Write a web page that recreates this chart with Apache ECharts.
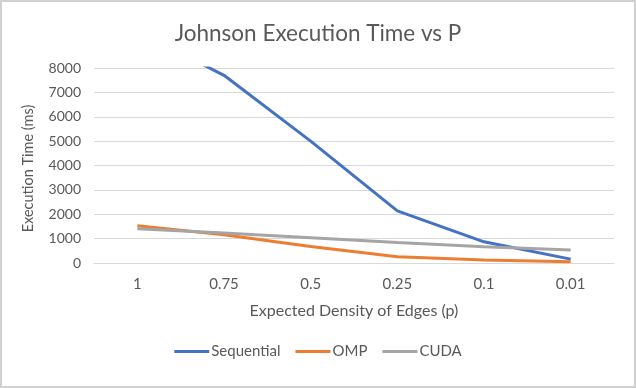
<!DOCTYPE html>
<html><head><meta charset="utf-8">
<script src="https://cdn.jsdelivr.net/npm/echarts@6/dist/echarts.min.js"></script>
<style>
html,body{margin:0;padding:0;background:#fff;}
#frame{position:absolute;left:0;top:0;width:632px;height:384px;border:2px solid #d0d0d0;}
#c{position:absolute;left:0;top:0;width:636px;height:388px;}
</style></head>
<body>
<div id="frame"></div>
<div id="c"></div>
<script>
const categories = ['1', '0.75', '0.5', '0.25', '0.1', '0.01'];
const sequential = [9500, 7700, 5000, 2140, 870, 160];
const omp = [1530, 1160, 680, 255, 125, 50];
const cuda = [1410, 1230, 1040, 840, 670, 530];
const yTicks = { min: 0, max: 8000, interval: 1000 };

const font = 'Lato, "Open Sans", sans-serif';
const chart = echarts.init(document.getElementById('c'));
chart.setOption({
  backgroundColor: 'transparent',
  animation: false,
  title: {
    text: 'Johnson Execution Time vs P', left: 'center', top: 17,
    textStyle: { fontFamily: font, fontSize: 22.5, fontWeight: 'normal', color: '#595959' }
  },
  grid: { left: 94, right: 22, top: 68, bottom: 125 },
  legend: {
    bottom: 24, left: 'center', itemWidth: 35, itemHeight: 3, itemGap: 15,
    icon: 'rect',
    textStyle: { fontFamily: font, fontSize: 15, color: '#595959', padding: [0,0,0,-3] },
    data: ['Sequential', 'OMP', 'CUDA']
  },
  xAxis: {
    type: 'category', data: categories, boundaryGap: true,
    name: 'Expected Density of Edges (p)', nameLocation: 'middle', nameGap: 40,
    nameTextStyle: { fontFamily: font, fontSize: 16, color: '#595959' },
    axisLine: { show: true, lineStyle: { color: '#d9d9d9', width: 1 } },
    axisTick: { show: false },
    axisLabel: { fontFamily: font, fontSize: 15, color: '#595959', margin: 14 }
  },
  yAxis: {
    type: 'value', min: yTicks.min, max: yTicks.max, interval: yTicks.interval,
    name: 'Execution Time (ms)', nameLocation: 'middle', nameGap: 58,
    nameTextStyle: { fontFamily: font, fontSize: 14.5, color: '#595959', padding: [0, 6, 0, 0] },
    axisLine: { show: false }, axisTick: { show: false },
    axisLabel: { fontFamily: font, fontSize: 14, color: '#595959', margin: 13,
      formatter: function (v) { return String(v); } },
    splitLine: { lineStyle: { color: '#d9d9d9', width: 1 } }
  },
  series: [
    { name: 'Sequential', type: 'line', data: sequential, symbol: 'none', clip: true,
      lineStyle: { color: '#4472C4', width: 3 }, itemStyle: { color: '#4472C4' } },
    { name: 'OMP', type: 'line', data: omp, symbol: 'none', clip: true,
      lineStyle: { color: '#ED7D31', width: 3 }, itemStyle: { color: '#ED7D31' } },
    { name: 'CUDA', type: 'line', data: cuda, symbol: 'none', clip: true,
      lineStyle: { color: '#A5A5A5', width: 3 }, itemStyle: { color: '#A5A5A5' } }
  ]
});
</script>
</body></html>
